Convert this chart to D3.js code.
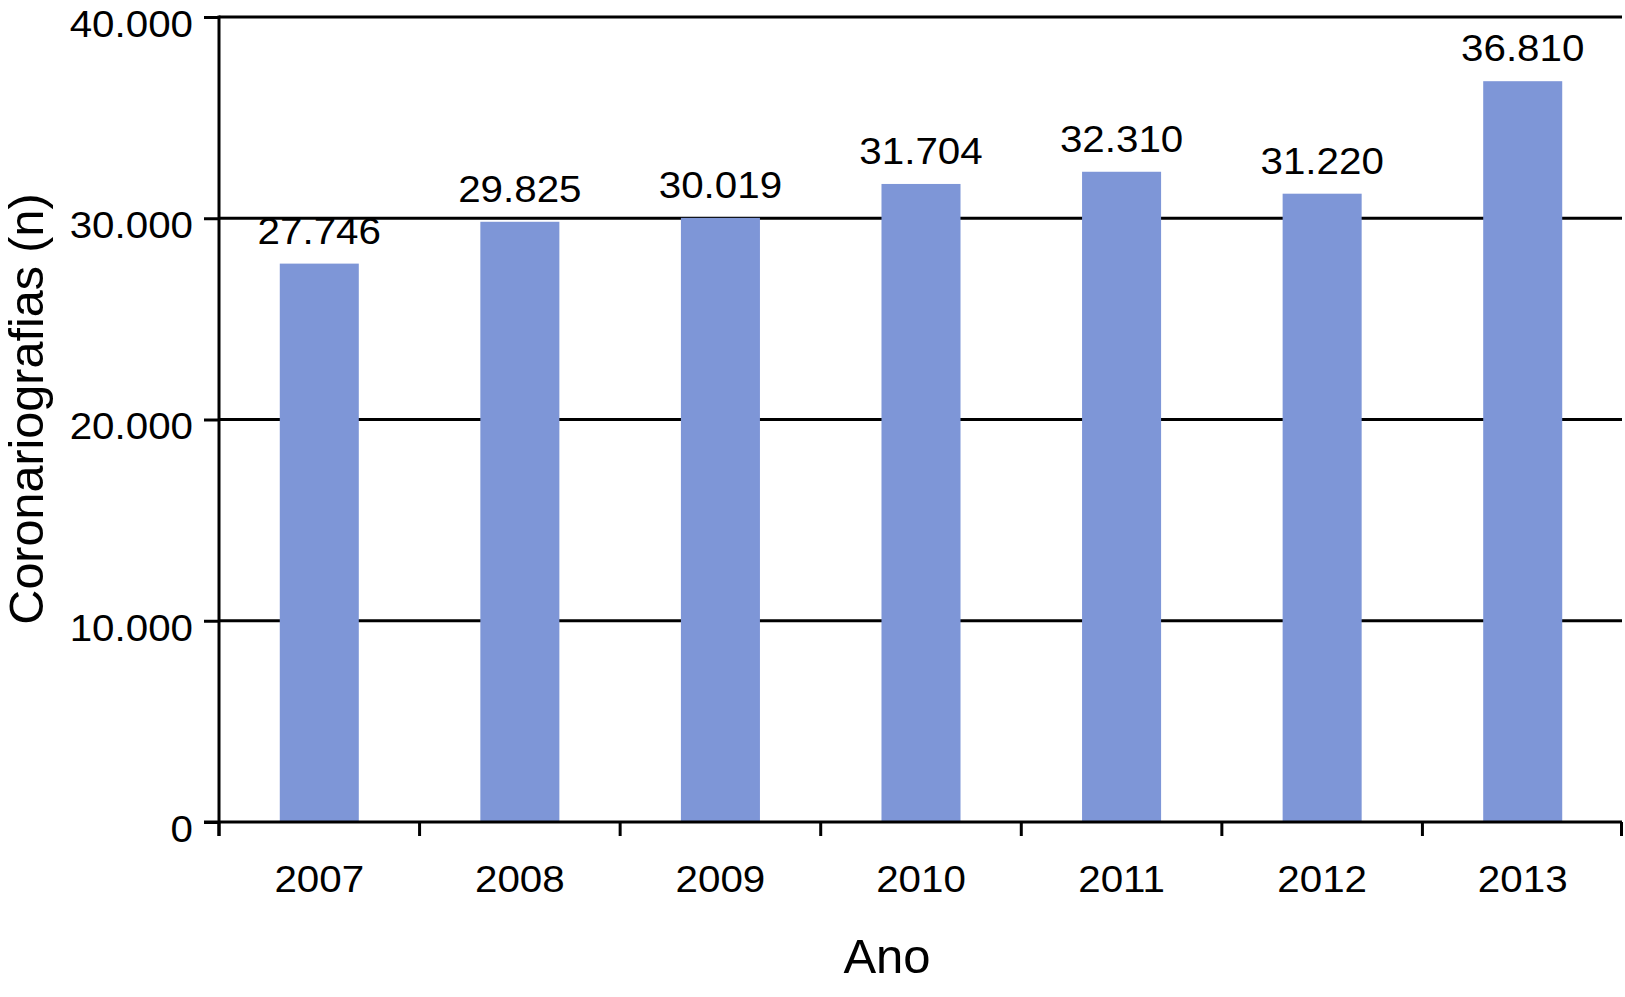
<!DOCTYPE html>
<html>
<head>
<meta charset="utf-8">
<script src="https://cdn.jsdelivr.net/npm/d3@7"></script>
<style>
  html, body { margin: 0; padding: 0; background: #ffffff; }
  svg { display: block; }
  text { font-family: "Liberation Sans", Arial, Helvetica, sans-serif; fill: #000; }
</style>
</head>
<body>
<svg id="chart" width="1625" height="997"></svg>
<script>
// ---- Data ----
const years = ["2007", "2008", "2009", "2010", "2011", "2012", "2013"];
const values = [27746, 29825, 30019, 31704, 32310, 31220, 36810];
const yTicks = [0, 10000, 20000, 30000, 40000];
const yTickLabels = ["0", "10.000", "20.000", "30.000", "40.000"];
const xTitle = "Ano";
const yTitle = "Coronariografias (n)";

// ---- Layout ----
const mLeft = 219, mRight = 1623, mTop = 17, mBottom = 822;
const barColor = "#7e96d7";
const lineW = 3;
const stretch = 1.09;

const svg = d3.select("#chart");

const fmt = d3.formatLocale({ decimal: ",", thousands: ".", grouping: [3], currency: ["", ""] }).format(",d");

function widen(sel) {
  sel.each(function () {
    const w = this.getComputedTextLength();
    d3.select(this).attr("textLength", w * stretch).attr("lengthAdjust", "spacingAndGlyphs");
  });
}

const x = d3.scaleBand().domain(years).range([mLeft, mRight])
  .paddingInner(0.606).paddingOuter(0.303);
const y = d3.scaleLinear().domain([0, 40000]).range([mBottom, mTop]);

// gridlines (non-zero ticks)
svg.append("g").selectAll("line").data(yTicks.filter(d => d > 0)).join("line")
  .attr("x1", mLeft).attr("x2", mRight - 1)
  .attr("y1", d => y(d)).attr("y2", d => y(d))
  .attr("stroke", "#000").attr("stroke-width", lineW);

// bars
svg.append("g").selectAll("rect").data(values).join("rect")
  .attr("x", (d, i) => x(years[i]))
  .attr("width", x.bandwidth())
  .attr("y", d => y(d))
  .attr("height", d => y(0) - y(d))
  .attr("fill", barColor);

// value labels
svg.append("g").selectAll("text").data(values).join("text")
  .attr("x", (d, i) => x(years[i]) + x.bandwidth() / 2)
  .attr("y", d => y(d) - 20)
  .attr("text-anchor", "middle")
  .attr("font-size", "37px")
  .text(d => fmt(d))
  .call(widen);

// y axis
const yAxis = d3.axisLeft(y).tickValues(yTicks)
  .tickFormat((d, i) => yTickLabels[i]).tickSize(15).tickPadding(11);
const gy = svg.append("g").attr("transform", `translate(${mLeft},0)`).call(yAxis);
gy.select(".domain").remove();
gy.attr("font-family", null).attr("font-size", null);
gy.selectAll(".tick line").attr("stroke", "#000").attr("stroke-width", lineW);
gy.selectAll(".tick text").attr("font-size", "37px").attr("dy", "0.52em").attr("fill", "#000").call(widen);
svg.append("line").attr("x1", mLeft).attr("x2", mLeft)
  .attr("y1", mTop - 1.5).attr("y2", mBottom + 14)
  .attr("stroke", "#000").attr("stroke-width", lineW);

// x axis
const xAxis = d3.axisBottom(x).tickSize(0).tickPadding(44);
const gx = svg.append("g").attr("transform", `translate(0,${mBottom})`).call(xAxis);
gx.select(".domain").remove();
gx.attr("font-family", null).attr("font-size", null);
gx.selectAll(".tick text").attr("font-size", "37px").attr("fill", "#000").call(widen);
svg.append("line").attr("x1", mLeft - 15).attr("x2", mRight - 1)
  .attr("y1", mBottom).attr("y2", mBottom)
  .attr("stroke", "#000").attr("stroke-width", lineW);
const boundaries = years.map(d => x(d) - x.step() * x.paddingInner() / 2)
  .concat([mRight - 1.5]);
svg.append("g").selectAll("line").data(boundaries).join("line")
  .attr("x1", d => d).attr("x2", d => d)
  .attr("y1", mBottom).attr("y2", mBottom + 14)
  .attr("stroke", "#000").attr("stroke-width", lineW);

// axis titles
svg.append("text")
  .attr("x", (mLeft + mRight) / 2 - 34).attr("y", 973)
  .attr("text-anchor", "middle").attr("font-size", "49px")
  .text(xTitle);
svg.append("text")
  .attr("transform", `translate(43,409) rotate(-90)`)
  .attr("text-anchor", "middle").attr("font-size", "48.5px")
  .text(yTitle);
</script>
</body>
</html>
